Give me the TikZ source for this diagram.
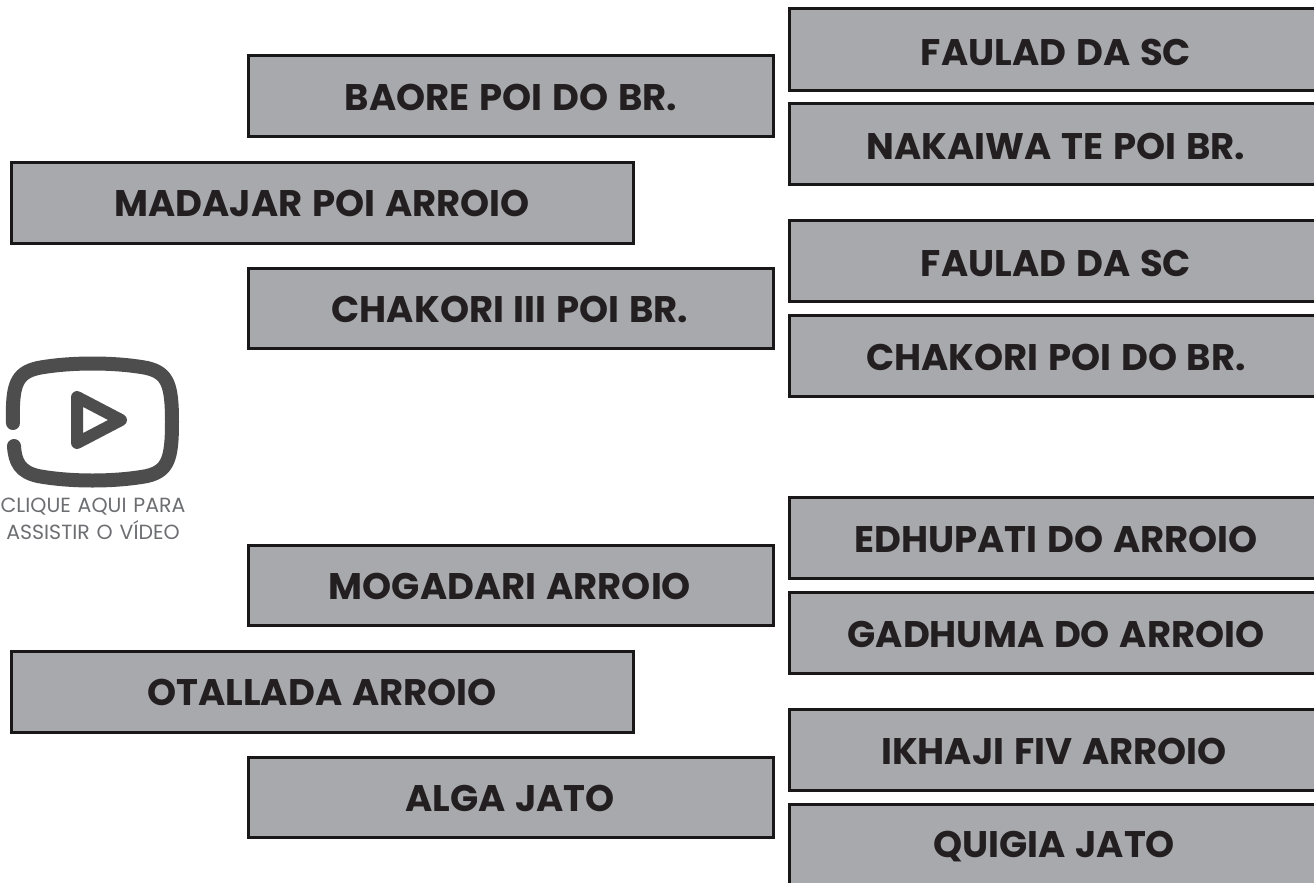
\documentclass[tikz,border=0pt]{standalone}
\usepackage{fontspec}
\setmainfont{Poppins}[WordSpace=1.25]
\definecolor{boxfill}{HTML}{A7A9AC}
\definecolor{boxline}{HTML}{1A1718}
\definecolor{ink}{HTML}{231F20}
\definecolor{icongrey}{HTML}{4D4D4D}
\definecolor{capgrey}{HTML}{6D6E71}
\tikzset{
  boxnode/.style={draw=boxline,fill=boxfill,line width=3pt,inner sep=0pt,outer sep=0pt,anchor=north west},
  midbox/.style={boxnode,minimum width=525pt,minimum height=80.5pt},
  leftbox/.style={boxnode,minimum width=621.5pt,minimum height=81pt},
  rightbox/.style={boxnode,minimum width=560pt,minimum height=81pt},
  lab/.style={font=\fontsize{37}{37}\selectfont\bfseries,text=ink,inner sep=0pt,anchor=center},
  capt/.style={font=\fontsize{20.5}{20.5}\selectfont,text=capgrey,inner sep=0pt,anchor=center},
  iconline/.style={draw=icongrey,line width=14pt,line cap=round,line join=round}
}
\begin{document}
\begin{tikzpicture}[x=1pt,y=-1pt]
\clip (0,0) rectangle (1314,883);
\fill[white] (0,0) rectangle (1314,883);
% right column
\node[rightbox] (r1) at (789.5,9) {};
\node[rightbox] (r2) at (789.5,103) {};
\node[rightbox] (r3) at (789.5,220) {};
\node[rightbox] (r4) at (789.5,315) {};
\node[rightbox] (r5) at (789.5,497) {};
\node[rightbox] (r6) at (789.5,592) {};
\node[rightbox] (r7) at (789.5,709) {};
\node[rightbox] (r8) at (789.5,804) {};
% middle column
\node[midbox] (m1) at (248.5,56) {};
\node[midbox] (m2) at (248.5,268) {};
\node[midbox] (m3) at (248.5,545) {};
\node[midbox] (m4) at (248.5,757) {};
% left column
\node[leftbox] (l1) at (11.5,162) {};
\node[leftbox] (l2) at (11.5,651) {};
% labels
\node[lab] (tm1) at (511,97) {BAORE POI DO BR.};
\node[lab] (tl1) at (322,203) {MADAJAR POI ARROIO};
\node[lab] (tm2) at (510,309) {CHAKORI III POI BR.};
\node[lab] (tm3) at (510,586) {MOGADARI ARROIO};
\node[lab] (tl2) at (322,692) {OTALLADA ARROIO};
\node[lab] (tm4) at (510,798) {ALGA JATO};
\node[lab] (tr1) at (1056,52) {FAULAD DA SC};
\node[lab] (tr2) at (1056,146) {NAKAIWA TE POI BR.};
\node[lab] (tr3) at (1056,263) {FAULAD DA SC};
\node[lab] (tr4) at (1056,357) {CHAKORI POI DO BR.};
\node[lab] (tr5) at (1056,539) {EDHUPATI DO ARROIO};
\node[lab] (tr6) at (1056,634) {GADHUMA DO ARROIO};
\node[lab] (tr7) at (1054,751) {IKHAJI FIV ARROIO};
\node[lab] (tr8) at (1054,847) {QUIGIA JATO};
% icon
\draw[iconline] (13,423) .. controls (12,385) and (16,373) .. (38,368)
  .. controls (70,362) and (115,362) .. (147,368)
  .. controls (168,373) and (172,385) .. (172,422)
  .. controls (172,459) and (168,471) .. (147,476)
  .. controls (115,482) and (70,482) .. (38,476)
  .. controls (20,472) and (15,462) .. (14,446);
\draw[draw=icongrey,line width=12pt,line join=round,line cap=round] (77,397) -- (121,420) -- (77,443) -- cycle;
\node[capt] (c1) at (93,507) {CLIQUE AQUI PARA};
\node[capt] (c2) at (93,530) {ASSISTIR O VÍDEO};
\end{tikzpicture}
\end{document}
